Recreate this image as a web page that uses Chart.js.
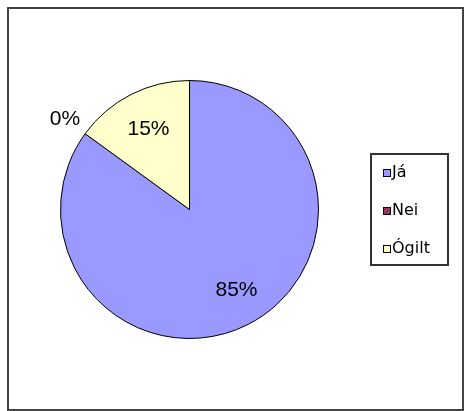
<!DOCTYPE html>
<html>
<head>
<meta charset="utf-8">
<script src="https://cdn.jsdelivr.net/npm/chart.js@4/dist/chart.umd.min.js"></script>
<style>
  html, body { margin: 0; padding: 0; background: #fff; }
  #wrap { width: 469px; height: 411px; }
</style>
</head>
<body>
<div id="wrap"><canvas id="pieChart" width="469" height="411"></canvas></div>
<script>
const flokkar = ['Já', 'Nei', 'Ógilt'];
const hlutfall = [85, 0, 15];
const litir = ['#9999FF', '#993366', '#FFFFCC'];

// merki, rammi og skýringar teiknuð ofan á
const skreyting = {
    id: 'skreyting',
    afterDraw(chart) {
        const ctx = chart.ctx;
        const arcs = chart.getDatasetMeta(0).data;
        const total = hlutfall.reduce((a, b) => a + b, 0);

        ctx.save();
        ctx.fillStyle = '#000';
        ctx.font = '21px "Liberation Sans", Arial, sans-serif';
        ctx.textAlign = 'center';
        ctx.textBaseline = 'middle';
        arcs.forEach((arc, i) => {
            const p = arc.getProps(['x', 'y', 'startAngle', 'endAngle', 'outerRadius'], true);
            const mid = (p.startAngle + p.endAngle) / 2;
            const r = hlutfall[i] === 0 ? p.outerRadius + 25 : p.outerRadius * 0.7;
            const txt = Math.round(hlutfall[i] / total * 100) + '%';
            ctx.fillText(txt, p.x + Math.cos(mid) * r + (i === 0 ? 6 : 0), p.y + Math.sin(mid) * r);
        });

        // skýringarkassi
        ctx.lineWidth = 2;
        ctx.strokeStyle = '#333';
        ctx.strokeRect(371, 154, 77, 111);
        ctx.font = '16px "DejaVu Sans", sans-serif';
        ctx.textAlign = 'left';
        flokkar.forEach((nafn, i) => {
            const y = 173 + i * 38;
            ctx.fillStyle = litir[i];
            ctx.fillRect(383, y - 4, 8, 8);
            ctx.lineWidth = 1;
            ctx.strokeStyle = '#000';
            ctx.strokeRect(383.5, y - 3.5, 7, 7);
            ctx.fillStyle = '#000';
            ctx.fillText(nafn, 392, y);
        });

        // ytri rammi
        ctx.lineWidth = 2;
        ctx.strokeStyle = '#444';
        ctx.strokeRect(8, 8, 455, 402);
        ctx.restore();
    }
};

new Chart(document.getElementById('pieChart'), {
    type: 'pie',
    data: {
        labels: flokkar,
        datasets: [{
            data: hlutfall,
            backgroundColor: litir,
            borderColor: '#000',
            borderWidth: 1
        }]
    },
    options: {
        responsive: false,
        animation: false,
        layout: { padding: { left: 60, top: 80, right: 150, bottom: 72 } },
        plugins: {
            legend: { display: false },
            tooltip: { enabled: false }
        }
    },
    plugins: [skreyting]
});
</script>
</body>
</html>
